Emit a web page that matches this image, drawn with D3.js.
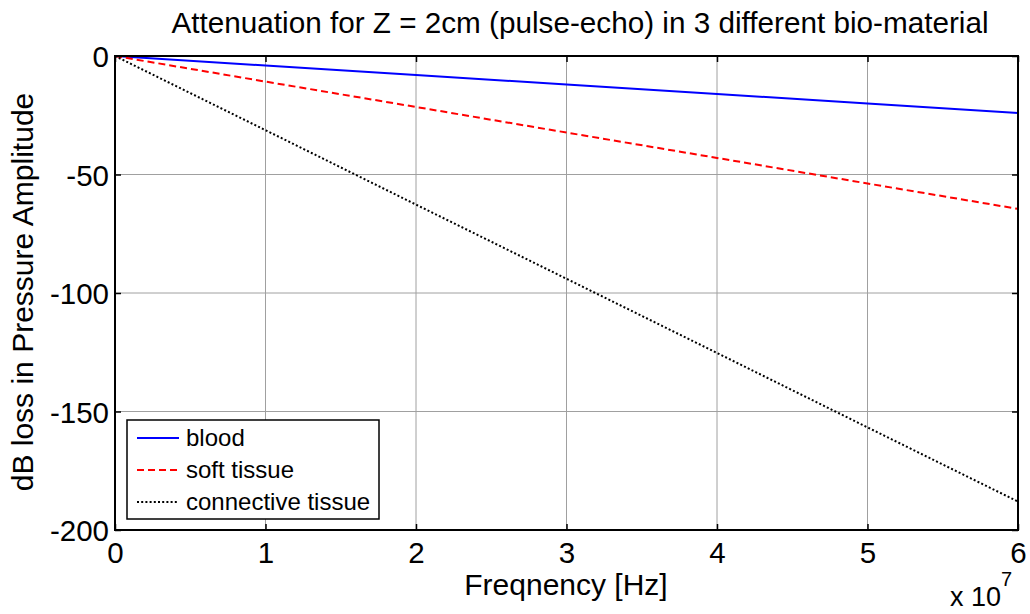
<!DOCTYPE html>
<html><head><meta charset="utf-8">
<script src="https://cdn.jsdelivr.net/npm/d3@7"></script>
<style>body{margin:0;background:#fff}svg{display:block}text{font-family:"Liberation Sans",Arial,sans-serif;fill:#000}</style>
</head><body>
<script>
const freqs = [0, 1, 2, 3, 4, 5, 6]; // x 10^7 Hz
const blood = [0, -4.0, -8.0, -12.0, -16.0, -20.0, -24.0];
const softTissue = [0, -10.8, -21.5, -32.3, -43.0, -53.8, -64.5];
const connective = [0, -31.3, -62.7, -94.0, -125.3, -156.7, -188.0];
const xTicks = [0, 1, 2, 3, 4, 5, 6];
const yTicks = [0, -50, -100, -150, -200];
const seriesNames = ["blood", "soft tissue", "connective tissue"];

const W = 1030, H = 614;
const L = 115, R = 1018, T = 56, B = 530;
const FONT = '"Liberation Sans",Arial,sans-serif';
const svg = d3.select("body").append("svg").attr("width", W).attr("height", H);
const x = d3.scaleLinear().domain([0, 6]).range([L, R]);
const y = d3.scaleLinear().domain([-200, 0]).range([B, T]);

// grid
const g = svg.append("g");
g.selectAll(".gx").data(xTicks.slice(1, -1)).enter().append("line")
  .attr("x1", d => x(d)).attr("x2", d => x(d)).attr("y1", T).attr("y2", B)
  .attr("stroke", "#a0a0a0").attr("stroke-width", 1);
g.selectAll(".gy").data(yTicks.slice(1, -1)).enter().append("line")
  .attr("y1", d => y(d)).attr("y2", d => y(d)).attr("x1", L).attr("x2", R)
  .attr("stroke", "#a0a0a0").attr("stroke-width", 1);

// axes
const fs = 29.5;
const fmt = d => String(d); // hyphen-minus like the reference
const xAxisB = d3.axisBottom(x).tickValues(xTicks).tickSize(-6).tickPadding(0).tickFormat(fmt);
const xAxisT = d3.axisTop(x).tickValues(xTicks).tickSize(-6).tickFormat("");
const yAxisL = d3.axisLeft(y).tickValues(yTicks).tickSize(-6).tickPadding(6).tickFormat(fmt);
const yAxisR = d3.axisRight(y).tickValues(yTicks).tickSize(-6).tickFormat("");
function style(sel){
  sel.attr("font-size", null).attr("font-family", null);
  sel.select(".domain").remove();
  sel.selectAll(".tick line").attr("stroke", "#000").attr("stroke-width", 1.5);
  sel.selectAll("text").attr("font-size", fs).attr("font-family", FONT).attr("fill", "#000");
}
svg.append("g").attr("transform", `translate(0,${B})`).call(xAxisB).call(style)
  .selectAll("text").attr("y", 33).attr("dy", 0);
svg.append("g").attr("transform", `translate(0,${T})`).call(xAxisT).call(style);
svg.append("g").attr("transform", `translate(${L},0)`).call(yAxisL).call(style)
  .selectAll("text").attr("dy", "0.36em");
svg.append("g").attr("transform", `translate(${R},0)`).call(yAxisR).call(style);

// lines
const data = [
  {name: seriesNames[0], vals: blood, color: "#0000ff", dash: null},
  {name: seriesNames[1], vals: softTissue, color: "#ff0000", dash: "7,4"},
  {name: seriesNames[2], vals: connective, color: "#000000", dash: "2,2.2"}
];
const line = d3.line().x((d, i) => x(freqs[i])).y(d => y(d));
svg.selectAll(".series").data(data).enter().append("path")
  .attr("d", d => line(d.vals)).attr("fill", "none")
  .attr("stroke", d => d.color).attr("stroke-width", 2)
  .attr("stroke-dasharray", d => d.dash);

// box
svg.append("rect").attr("x", L).attr("y", T).attr("width", R - L).attr("height", B - T)
  .attr("fill", "none").attr("stroke", "#000").attr("stroke-width", 2);

// legend
const lg = svg.append("g");
lg.append("rect").attr("x", 127).attr("y", 420).attr("width", 252).attr("height", 99)
  .attr("fill", "#fff").attr("stroke", "#000").attr("stroke-width", 1.5);
data.forEach((d, i) => {
  const yy = 438 + i * 32;
  lg.append("line").attr("x1", 137).attr("x2", 179).attr("y1", yy).attr("y2", yy)
    .attr("stroke", d.color).attr("stroke-width", 2).attr("stroke-dasharray", d.dash);
  lg.append("text").attr("x", 186).attr("y", yy).attr("dy", "0.35em")
    .attr("font-size", 24).text(d.name);
});

// labels
svg.append("text").attr("x", 580).attr("y", 33).attr("text-anchor", "middle")
  .attr("font-size", 29.7).text("Attenuation for Z = 2cm (pulse-echo) in 3 different bio-material");
svg.append("text").attr("x", 566).attr("y", 595).attr("text-anchor", "middle")
  .attr("font-size", 30).text("Freqnency [Hz]");
svg.append("text").attr("transform", "translate(33,292) rotate(-90)").attr("text-anchor", "middle")
  .attr("font-size", 30).text("dB loss in Pressure Amplitude");
const ex = svg.append("text").attr("x", 950).attr("y", 606).attr("font-size", 27);
ex.append("tspan").text("x 10");
ex.append("tspan").attr("dy", -20).attr("font-size", 20).text("7");
</script>
</body></html>
